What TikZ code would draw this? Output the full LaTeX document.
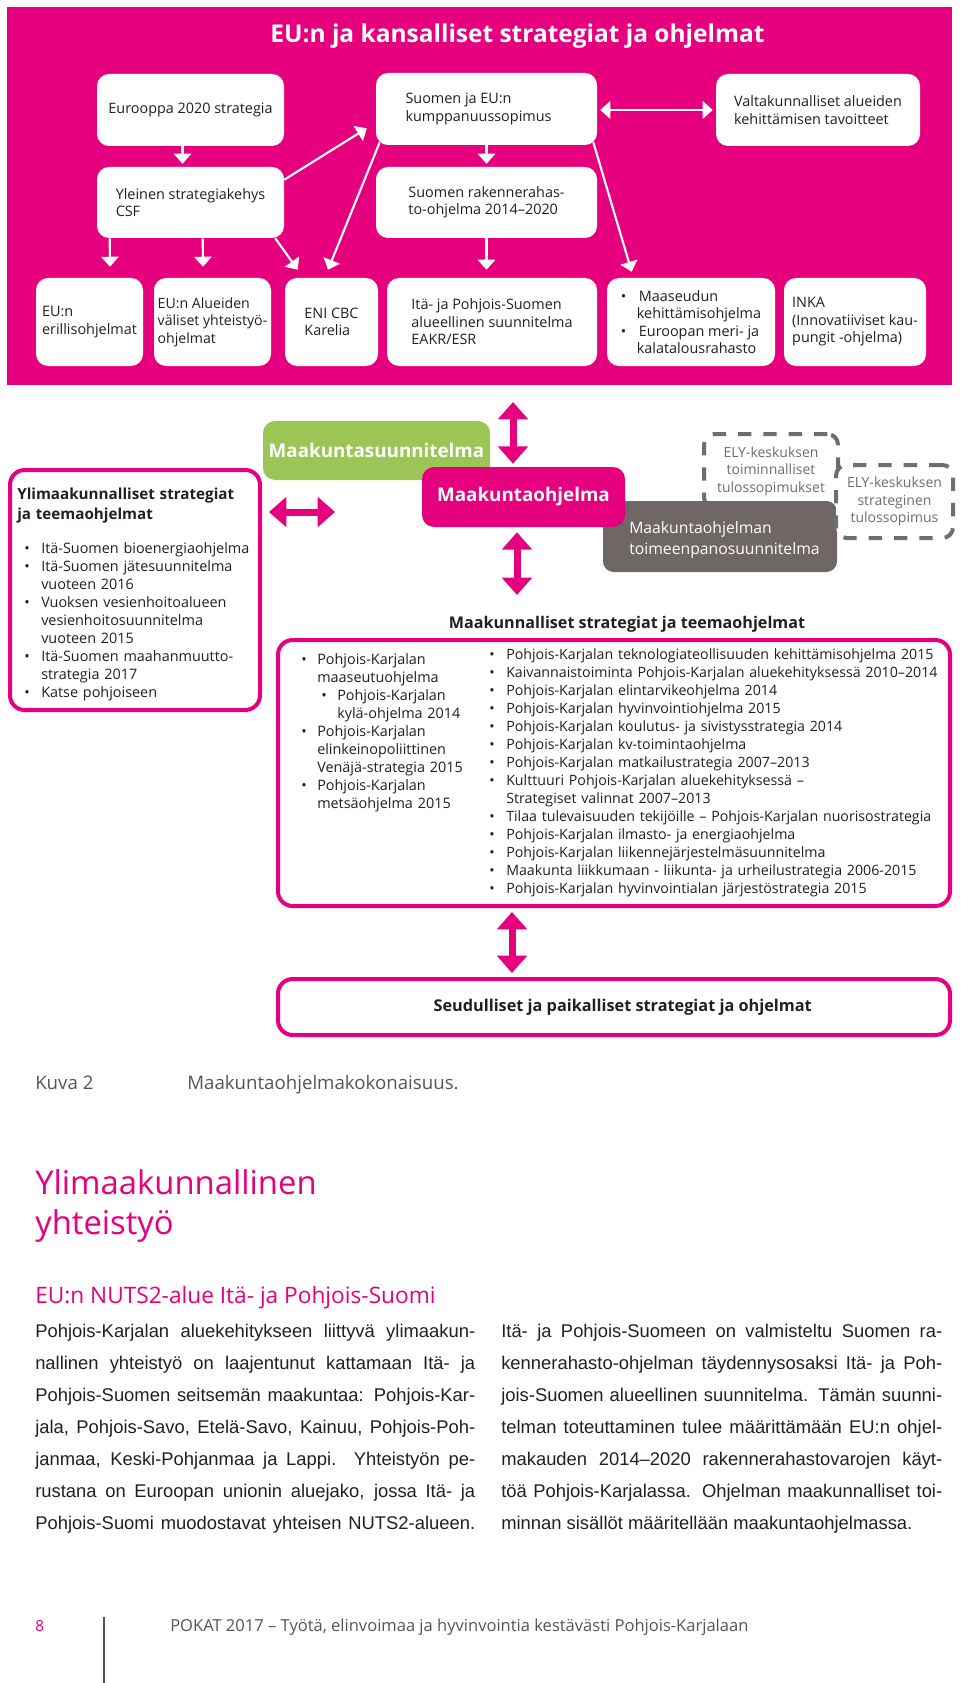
\documentclass[tikz,border=0pt]{standalone}
\usepackage{fontspec}
\setmainfont{Open Sans}
\newfontfamily\arialf{Liberation Sans}
\usetikzlibrary{arrows.meta,calc}
\definecolor{pk}{RGB}{230,0,126}
\definecolor{gr}{RGB}{155,198,86}
\definecolor{gy}{RGB}{111,103,101}
\definecolor{dg}{RGB}{110,110,110}
\definecolor{tx}{RGB}{35,31,32}
\definecolor{capc}{RGB}{85,85,85}
% first bullet item (no \par), following items (with \par)
\newcommand\bitf[2]{\noindent\hangindent=#1\hangafter=1\makebox[#1][l]{\hspace{#2}•}\ignorespaces}
\newcommand\bit[2]{\par\bitf{#1}{#2}}
\tikzset{
  bx/.style 2 args={minimum width=#1*0.75pt,minimum height=#2*0.75pt},
  wbox/.style={fill=white, rounded corners=9pt, inner sep=0pt, align=left, text=tx,
    font=\fontsize{10.8}{13.1}\selectfont},
  warr/.style={white, line width=1.6pt, -{Triangle[width=13pt,length=7.5pt]}},
  wdarr/.style={white, line width=1.6pt, {Triangle[width=13pt,length=7.5pt]}-{Triangle[width=13pt,length=7.5pt]}},
  parr/.style={pk, line width=5.25pt, {Triangle[width=22pt,length=13pt]}-{Triangle[width=22pt,length=13pt]}},
  pbox/.style={draw=pk, line width=3pt, fill=white, rounded corners=11pt, inner sep=0pt},
  elybox/.style={draw=dg, line width=3pt, dash pattern=on 10pt off 9pt, rounded corners=8pt,
    fill=white, align=center, text=dg, inner sep=0pt, font=\fontsize{10.5}{13.1}\selectfont},
  coltext/.style={anchor=base west, inner sep=0pt, align=left, text=tx},
}
\begin{document}
\begin{tikzpicture}[x=0.75pt,y=-0.75pt]
\useasboundingbox (0,0) rectangle (960,1683);
\fill[white] (0,0) rectangle (960,1683);
% ---------- top pink panel ----------
\node[fill=pk, anchor=north west, bx={945}{378}, inner sep=0pt] (bg) at (7,7) {};
\node[anchor=base, text=white, inner sep=0pt, font=\bfseries\fontsize{18.35}{22}\selectfont] (title) at (517.5,43) {EU:n ja kansalliset strategiat ja ohjelmat};

\node[wbox, bx={187}{72}] (eu2020) at (190.5,110) {Eurooppa 2020 strategia};
\node[wbox, bx={221}{72}] (sej) at (486.5,109) {Suomen ja EU:n\\kumppanuussopimus\hspace*{12pt}};
\node[wbox, bx={204}{72}] (valt) at (818,110) {Valtakunnalliset alueiden\\kehittämisen tavoitteet};
\node[wbox, bx={187}{71}] (csf) at (190.5,202.5) {Yleinen strategiakehys\\CSF};
\node[wbox, bx={221}{71}] (srp) at (486.5,202.5) {Suomen rakennerahas-\\to-ohjelma 2014–2020};
\node[wbox, bx={107}{88}] (eue) at (89.5,322) {EU:n\\erillisohjelmat};
\node[wbox, bx={117}{88}, font=\fontsize{10.6}{13.1}\selectfont] (eua) at (212.5,322) {EU:n Alueiden\\väliset yhteistyö-\\ohjelmat};
\node[wbox, bx={93}{88}] (eni) at (331.5,322) {ENI CBC\\Karelia};
\node[wbox, bx={210}{88}] (ita) at (492,322) {Itä- ja Pohjois-Suomen\\alueellinen suunnitelma\\EAKR/ESR};
\node[wbox, bx={168}{88}] (maa) at (691,322) {\makebox[13.5pt][l]{•}Maaseudun\\\hspace*{12pt}kehittämisohjelma\\\makebox[13.5pt][l]{•}Euroopan meri- ja\\\hspace*{12pt}kalatalousrahasto};
\node[wbox, bx={142}{88}] (inka) at (855,322) {INKA\\(Innovatiiviset kau-\\pungit -ohjelma)};

\draw[warr] ($(eu2020.south)+(-8,0)$) -- ($(csf.north)+(-8,-3)$);
\draw[warr] ($(csf.north east)+(0,13)$) -- ($(sej.south west)+(-9,-17)$);
\draw[wdarr] ($(sej.east)+(3,1)$) -- ($(valt.west)+(-3,0)$);
\draw[warr] (sej.south) -- ($(srp.north)+(0,-3)$);
\draw[warr] (srp.south) -- ($(ita.north)+(-5.5,-8)$);
\draw[warr] ($(csf.south west)+(13,0)$) -- ($(eue.north)+(20.5,-11)$);
\draw[warr] ($(csf.south west)+(106,0)$) -- ($(eua.north)+(-9.5,-11)$);
\draw[warr] ($(csf.south east)+(-9,0)$) -- ($(eni.north west)+(13,-8)$);
\draw[warr] ($(sej.south west)+(4,-3)$) -- ($(eni.north)+(-3.5,-8)$);
\draw[warr] ($(sej.south east)+(-4,-3)$) -- ($(maa.north west)+(25,-6)$);

% ---------- middle ----------
\node[pbox, anchor=north west, bx={250}{240}] (ylim) at (8,468) {};
\node[coltext, text width=280*0.75pt, font=\fontsize{10.8}{13.5}\selectfont] (ylimt) at (17,499) {%
{\bfseries\fontsize{11.4}{15}\selectfont Ylimaakunnalliset strategiat\newline ja teemaohjelmat\par}
\vspace{12pt}
\bitf{18pt}{5.25pt}Itä-Suomen bioenergiaohjelma
\bit{18pt}{5.25pt}Itä-Suomen jätesuunnitelma\newline vuoteen 2016
\bit{18pt}{5.25pt}Vuoksen vesienhoitoalueen\newline vesienhoitosuunnitelma\newline vuoteen 2015
\bit{18pt}{5.25pt}Itä-Suomen maahanmuutto-\newline strategia 2017
\bit{18pt}{5.25pt}Katse pohjoiseen\par};

\node[fill=gr, rounded corners=9pt, bx={227}{59}, inner sep=0pt, text=white, font=\bfseries\fontsize{14.1}{17}\selectfont] (mks) at (376.5,450.5) {Maakuntasuunnitelma};
\node[elybox, bx={134}{74}] (ely1) at (771,471) {ELY-keskuksen\\toiminnalliset\\tulossopimukset};
\node[fill=gy, rounded corners=8pt, bx={234}{71}, inner sep=0pt] (gray) at (720,536.5) {};
\node[coltext, text=white, text width=225*0.75pt, font=\fontsize{11.8}{15.75}\selectfont] (grayt) at (629,533) {Maakuntaohjelman\\toimeenpanosuunnitelma};
\node[elybox, bx={117}{73}] (ely2) at (894.5,501.5) {ELY-keskuksen\\strateginen\\tulossopimus};
\node[fill=pk, rounded corners=9pt, bx={203}{60}, inner sep=0pt, text=white, font=\bfseries\fontsize{14.1}{17}\selectfont] (mko) at (523.5,497) {Maakuntaohjelma};

\coordinate (m1top) at (513,402);
\draw[parr] (m1top) -- ($(mko.north)+(-10.5,-3)$);
\coordinate (m2bot) at (517,595);
\draw[parr] ($(mko.south)+(-6.5,5)$) -- (m2bot);
\coordinate (m3r) at (335,512);
\draw[parr] ($(ylim.north east)+(7,44)$) -- (m3r);

\node[anchor=base, inner sep=0pt, text=tx, font=\bfseries\fontsize{12.1}{15}\selectfont] (mkh) at (627,628) {Maakunnalliset strategiat ja teemaohjelmat};

\node[pbox, bx={672}{266}] (bb) at (614,773) {};
\node[coltext, text width=185*0.75pt, font=\fontsize{10.8}{13.5}\selectfont] (lc) at (301,664) {%
\bitf{12pt}{0pt}Pohjois-Karjalan\newline maaseutuohjelma
\bit{27pt}{15pt}Pohjois-Karjalan\newline kylä-ohjelma 2014
\bit{12pt}{0pt}Pohjois-Karjalan\newline elinkeinopoliittinen\newline Venäjä-strategia 2015
\bit{12pt}{0pt}Pohjois-Karjalan\newline metsäohjelma 2015\par};
\node[coltext, text width=470*0.75pt, font=\fontsize{10.65}{13.5}\selectfont] (rc) at (489,659) {%
\bitf{12.75pt}{0pt}Pohjois-Karjalan teknologiateollisuuden kehittämisohjelma 2015
\bit{12.75pt}{0pt}Kaivannaistoiminta Pohjois-Karjalan aluekehityksessä 2010–2014
\bit{12.75pt}{0pt}Pohjois-Karjalan elintarvikeohjelma 2014
\bit{12.75pt}{0pt}Pohjois-Karjalan hyvinvointiohjelma 2015
\bit{12.75pt}{0pt}Pohjois-Karjalan koulutus- ja sivistysstrategia 2014
\bit{12.75pt}{0pt}Pohjois-Karjalan kv-toimintaohjelma
\bit{12.75pt}{0pt}Pohjois-Karjalan matkailustrategia 2007–2013
\bit{12.75pt}{0pt}Kulttuuri Pohjois-Karjalan aluekehityksessä –\newline Strategiset valinnat 2007–2013
\bit{12.75pt}{0pt}Tilaa tulevaisuuden tekijöille – Pohjois-Karjalan nuorisostrategia
\bit{12.75pt}{0pt}Pohjois-Karjalan ilmasto- ja energiaohjelma
\bit{12.75pt}{0pt}Pohjois-Karjalan liikennejärjestelmäsuunnitelma
\bit{12.75pt}{0pt}Maakunta liikkumaan - liikunta- ja urheilustrategia 2006-2015
\bit{12.75pt}{0pt}Pohjois-Karjalan hyvinvointialan järjestöstrategia 2015\par};

\node[pbox, bx={672}{56}, text=tx, font=\bfseries\fontsize{12.2}{15}\selectfont] (seu) at (614,1007) {\hspace*{13pt}Seudulliset ja paikalliset strategiat ja ohjelmat};
\draw[parr] ($(bb.south)+(-102,4)$) -- ($(seu.north)+(-102,-4)$);

% ---------- page text ----------
\node[anchor=base west, inner sep=0pt, text=capc, font=\fontsize{14}{17}\selectfont] (kuva) at (35,1089) {Kuva 2};
\node[anchor=base west, inner sep=0pt, text=capc, font=\fontsize{14}{17}\selectfont] (kuvat) at (187,1089) {Maakuntaohjelmakokonaisuus.};

\node[anchor=base west, inner sep=0pt, text=pk, align=left, text width=400*0.75pt, font=\fontsize{24.6}{30}\selectfont] (ylh) at (35,1194) {Ylimaakunnallinen\\yhteistyö};
\node[anchor=base west, inner sep=0pt, text=pk, font=\fontsize{17}{20}\selectfont] (nuts) at (35,1303) {EU:n NUTS2-alue Itä- ja Pohjois-Suomi};

\node[anchor=base west, inner sep=0pt, text=tx, align=justify, text width=440*0.75pt, font=\arialf\fontsize{13.8}{24}\selectfont] (body1) at (35,1337) {%
\hyphenpenalty=10000\parfillskip=0pt
Pohjois-Karjalan aluekehitykseen liittyvä ylimaakun-\linebreak
nallinen yhteistyö on laajentunut kattamaan Itä- ja\linebreak
Pohjois-Suomen seitsemän maakuntaa: Pohjois-Kar-\linebreak
jala, Pohjois-Savo, Etelä-Savo, Kainuu, Pohjois-Poh-\linebreak
janmaa, Keski-Pohjanmaa ja Lappi. Yhteistyön pe-\linebreak
rustana on Euroopan unionin aluejako, jossa Itä- ja\linebreak
Pohjois-Suomi muodostavat yhteisen NUTS2-alueen.\par};
\node[anchor=base west, inner sep=0pt, text=tx, align=justify, text width=441*0.75pt, font=\arialf\fontsize{13.8}{24}\selectfont] (body2) at (501,1337) {%
\hyphenpenalty=10000
Itä- ja Pohjois-Suomeen on valmisteltu Suomen ra-\linebreak
kennerahasto-ohjelman täydennysosaksi Itä- ja Poh-\linebreak
jois-Suomen alueellinen suunnitelma. Tämän suunni-\linebreak
telman toteuttaminen tulee määrittämään EU:n ohjel-\linebreak
makauden 2014–2020 rakennerahastovarojen käyt-\linebreak
töä Pohjois-Karjalassa. Ohjelman maakunnalliset toi-\linebreak
minnan sisällöt määritellään maakuntaohjelmassa.\par};

\node[anchor=base west, inner sep=0pt, text=pk, font=\fontsize{11.5}{14}\selectfont] (pnum) at (35,1631) {8};
\draw[capc, line width=0.8pt] (104,1617) -- (104,1683);
\node[anchor=base west, inner sep=0pt, text=capc, font=\fontsize{12.4}{15}\selectfont] (foot) at (170,1631) {POKAT 2017 – Työtä, elinvoimaa ja hyvinvointia kestävästi Pohjois-Karjalaan};
\end{tikzpicture}
\end{document}
